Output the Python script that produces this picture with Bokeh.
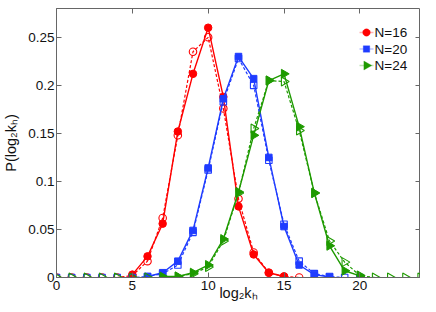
import math
from bokeh.plotting import figure
from bokeh.models import FixedTicker, LinearAxis, Range1d, Label, PolyAnnotation
from bokeh.embed import file_html
from bokeh.resources import INLINE

# ---- data ----
x16_full = list(range(5, 16))
y16_full = [0.003, 0.022, 0.056, 0.152, 0.212, 0.260, 0.188, 0.074, 0.024, 0.005, 0.001]
x16_open = list(range(0, 17))
y16_open = [0, 0, 0, 0, 0, 0.002, 0.017, 0.062, 0.148, 0.235, 0.250, 0.176, 0.082, 0.026, 0.005, 0.001, 0.0]

x20_full = list(range(6, 19))
y20_full = [0.001, 0.005, 0.017, 0.049, 0.114, 0.186, 0.230, 0.207, 0.125, 0.053, 0.013, 0.003, 0.0005]
x20_open = list(range(0, 21))
y20_open = [0, 0, 0, 0, 0, 0, 0.001, 0.004, 0.013, 0.047, 0.112, 0.183, 0.228, 0.200, 0.122, 0.0555,
            0.017, 0.004, 0.001, 0.0, 0.0]

x24_full = list(range(7, 21))
y24_full = [0.001, 0.001, 0.005, 0.013, 0.040, 0.089, 0.148, 0.205, 0.212, 0.157, 0.088, 0.033, 0.007, 0.0017]
x24_open = list(range(0, 25))
y24_open = [0, 0, 0, 0, 0, 0, 0, 0.0, 0.001, 0.004, 0.011, 0.038, 0.088, 0.155, 0.205, 0.204, 0.153,
            0.088, 0.038, 0.016, 0.002, 0, 0, 0, 0]

xticks = [0, 5, 10, 15, 20]
yticks = [0, 0.05, 0.1, 0.15, 0.2, 0.25]
ytick_labels = ["0", "0.05", "0.1", "0.15", "0.2", "0.25"]
labels = ["N=16", "N=20", "N=24"]
x_label = "log₂kₕ"
y_label = "P(log₂kₕ)"

RED = "#ff0000"
BLUE = "#1f3cff"
GREEN = "#1e9a00"
FONT = "Liberation Sans"
AX = "#666666"
TXT = "#111111"

FRAME_H = 269
p = figure(width=420, height=306, output_backend="svg", toolbar_location=None,
           x_range=Range1d(0, 24), y_range=Range1d(0, 0.28),
           min_border_left=48, min_border_right=0, min_border_top=8, min_border_bottom=29)
p.grid.visible = False
p.outline_line_color = AX
p.background_fill_color = "white"

for ax in (p.xaxis[0], p.yaxis[0]):
    ax.major_tick_in = 5
    ax.major_tick_out = 0
    ax.minor_tick_line_color = None
    ax.axis_line_color = AX
    ax.major_tick_line_color = AX
    ax.major_label_text_font = FONT
    ax.major_label_text_font_size = "13.5px"
    ax.major_label_text_color = TXT
    ax.axis_label_text_font = FONT
    ax.axis_label_text_font_size = "14.5px"
    ax.axis_label_text_font_style = "normal"
    ax.axis_label_text_color = TXT

p.xaxis[0].ticker = FixedTicker(ticks=xticks)
p.yaxis[0].ticker = FixedTicker(ticks=yticks)
p.yaxis[0].major_label_overrides = {v: s for v, s in zip(yticks, ytick_labels)}
p.yaxis[0].axis_label = y_label
p.xaxis[0].axis_label = x_label
p.xaxis[0].major_label_standoff = 3
p.xaxis[0].axis_label_standoff = -8
p.yaxis[0].major_label_standoff = 2
p.yaxis[0].axis_label_standoff = 6

# mirrored ticks on top and right
top = LinearAxis(ticker=FixedTicker(ticks=xticks), major_tick_in=5, major_tick_out=0,
                 major_label_text_font_size="1px", major_label_text_color=None,
                 minor_tick_line_color=None, axis_line_color=None,
                 major_tick_line_color=AX, major_label_standoff=0)
right = LinearAxis(ticker=FixedTicker(ticks=yticks), major_tick_in=5, major_tick_out=0,
                   major_label_text_font_size="1px", major_label_text_color=None,
                   minor_tick_line_color=None, axis_line_color=None,
                   major_tick_line_color=AX, major_label_standoff=0)
p.add_layout(top, "above")
p.add_layout(right, "right")

ANG = -math.pi / 2
series = [
    (x16_full, y16_full, x16_open, y16_open, RED, "circle", 7.5),
    (x20_full, y20_full, x20_open, y20_open, BLUE, "square", 6.5),
    (x24_full, y24_full, x24_open, y24_open, GREEN, "triangle", 9),
]
for xf, yf, xo, yo, c, m, s in series:
    ang = ANG if m == "triangle" else 0
    p.line(xo, yo, line_color=c, line_width=1.2, line_dash="3 2")
    p.scatter(xo, yo, marker=m, size=s, fill_color=None, line_color=c, line_width=1.1, angle=ang)
    p.line(xf, yf, line_color=c, line_width=1.4)
    p.scatter(xf, yf, marker=m, size=s, fill_color=c, line_color=c, line_width=1, angle=ang)

# ---- legend, drawn by hand (screen units, relative to the plot frame) ----
LEG_X0, LEG_X1 = 303, 317           # line segment
LEG_ROWS = [FRAME_H - 24, FRAME_H - 40.5, FRAME_H - 57]


def marker_outline(kind, cx, cy, s):
    r = s / 2
    if kind == "circle":
        n = 20
        return ([cx + r * math.cos(2 * math.pi * k / n) for k in range(n)],
                [cy + r * math.sin(2 * math.pi * k / n) for k in range(n)])
    if kind == "square":
        return ([cx - r, cx + r, cx + r, cx - r], [cy - r, cy - r, cy + r, cy + r])
    h = r * math.sqrt(3)
    a = h / 3
    return ([cx - a, cx - a, cx + h - a], [cy - r, cy + r, cy])


for (xf, yf, xo, yo, c, m, s), lab, ry in zip(series, labels, LEG_ROWS):
    p.add_layout(PolyAnnotation(xs=[LEG_X0, LEG_X1], ys=[ry, ry], xs_units="screen", ys_units="screen",
                                fill_color=None, line_color=c, line_width=1.4))
    mx, my = marker_outline(m, (LEG_X0 + LEG_X1) / 2, ry, s)
    p.add_layout(PolyAnnotation(xs=mx, ys=my, xs_units="screen", ys_units="screen",
                                fill_color=c, fill_alpha=1, line_color=c, line_width=1))
    p.add_layout(Label(x=LEG_X1 + 1, y=ry, x_units="screen", y_units="screen", text=lab,
                       text_align="left", text_baseline="middle", text_font=FONT,
                       text_font_size="13.5px", text_color=TXT))

open("out.html", "w").write(file_html(p, INLINE))
